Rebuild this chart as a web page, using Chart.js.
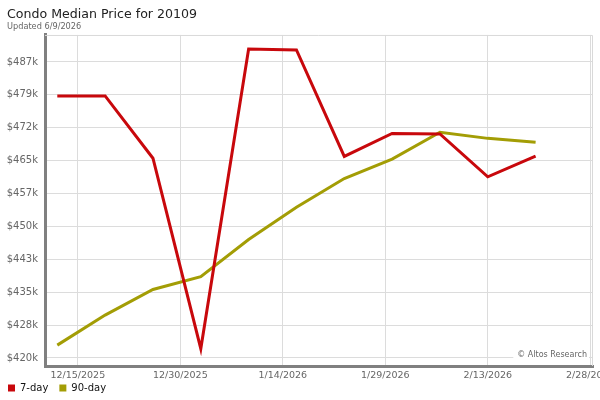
<!DOCTYPE html>
<html>
<head>
<meta charset="utf-8">
<script src="https://cdn.jsdelivr.net/npm/chart.js@4.4.1/dist/chart.umd.min.js"></script>
<style>
    html, body { margin: 0; padding: 0; background: #fff; }
    #wrap { width: 600px; height: 400px; }
</style>
</head>
<body>
<div id="wrap"><canvas id="price-chart"></canvas></div>
<script>
// weekly dates (in USD)
const weekDates = ['2025-12-12', '2025-12-19', '2025-12-26', '2026-01-02', '2026-01-09', '2026-01-16',
    '2026-01-23', '2026-01-30', '2026-02-06', '2026-02-13', '2026-02-20'];
const sevenDay = [479300, 479300, 465200, 422100, 489900, 489700, 465600, 470800, 470700, 461000, 465700];
const ninetyDay = [422900, 429700, 435500, 438400, 446800, 454100, 460600, 465000, 471100, 469700, 468800];

const xTickDates = ['12/15/2025', '12/30/2025', '1/14/2026', '1/29/2026', '2/13/2026', '2/28/2026'];
const yTickLabels = ['$420k', '$428k', '$435k', '$443k', '$450k', '$457k', '$465k', '$472k', '$479k', '$487k'];

const Y_LOW = 420000;
const Y_HIGH = 487000;
const yStep = (Y_HIGH - Y_LOW) / (yTickLabels.length - 1);

const DAY = 86400000;
const origin = Date.UTC(2025, 11, 15);

function dayOffset(str) {
    const p = str.split(/[-\/]/).map(Number);
    // ISO y-m-d or US m/d/y
    const t = str.includes('-') ? Date.UTC(p[0], p[1] - 1, p[2]) : Date.UTC(p[2], p[0] - 1, p[1]);
    return Math.round((t - origin) / DAY);
}

const xTickDays = xTickDates.map(dayOffset);
const toPoints = vals => vals.map((v, i) => ({ x: dayOffset(weekDates[i]), y: v }));

const frame = {
    id: 'frame',
    afterLayout(chart) {
        // pull the legend up under the dates and flush left
        const lg = chart.legend;
        if (lg) {
            lg.left -= 10;
            lg.right -= 10;
            lg.top -= 10;
            lg.bottom -= 10;
        }
    },
    beforeDatasetsDraw(chart) {
        const { ctx, chartArea: a } = chart;
        ctx.save();
        ctx.strokeStyle = '#d9d9d9';
        ctx.lineWidth = 1;
        ctx.beginPath();
        ctx.moveTo(a.left, a.top + 0.5);
        ctx.lineTo(a.right - 0.5, a.top + 0.5);
        ctx.lineTo(a.right - 0.5, a.bottom);
        ctx.stroke();
        ctx.restore();
    },
    afterDatasetsDraw(chart) {
        const { ctx, chartArea: a } = chart;
        const text = '\u00A9 Altos Research';
        ctx.save();
        ctx.font = '8px "DejaVu Sans"';
        const w = ctx.measureText(text).width;
        ctx.fillStyle = '#fff';
        ctx.fillRect(a.right - w - 10, a.bottom - 17, w + 6, 12);
        ctx.fillStyle = '#666';
        ctx.textBaseline = 'middle';
        ctx.fillText(text, a.right - w - 6, a.bottom - 11);
        ctx.restore();
    }
};

new Chart(document.getElementById('price-chart'), {
    type: 'line',
    data: {
        datasets: [{
            label: '7-day',
            data: toPoints(sevenDay),
            borderColor: '#c8080c',
            backgroundColor: '#c8080c',
            borderWidth: 3,
            pointRadius: 0,
            tension: 0
        }, {
            label: '90-day',
            data: toPoints(ninetyDay),
            borderColor: '#a39d05',
            backgroundColor: '#a39d05',
            borderWidth: 3,
            pointRadius: 0,
            tension: 0
        }]
    },
    options: {
        responsive: true,
        maintainAspectRatio: false,
        animation: false,
        layout: { padding: { left: 7, right: 7, top: 0, bottom: -13 } },
        plugins: {
            title: {
                display: true,
                text: 'Condo Median Price for 20109',
                align: 'start',
                color: '#222',
                font: { family: 'DejaVu Sans', size: 12.6, weight: 'normal' },
                padding: { top: 7, bottom: 0 }
            },
            subtitle: {
                display: true,
                text: 'Updated 6/9/2026',
                align: 'start',
                color: '#666',
                font: { family: 'DejaVu Sans', size: 8.2 },
                padding: { top: 0, bottom: 3 }
            },
            legend: {
                position: 'bottom',
                align: 'start',
                labels: {
                    boxWidth: 7,
                    boxHeight: 7,
                    padding: 11,
                    color: '#111',
                    font: { family: 'DejaVu Sans', size: 10 },
                    generateLabels: chart => Chart.defaults.plugins.legend.labels.generateLabels(chart)
                        .map(item => Object.assign(item, { lineWidth: 0 }))
                }
            },
            tooltip: { enabled: false }
        },
        scales: {
            x: {
                type: 'linear',
                min: -4.8,
                max: 75.4,
                afterBuildTicks: scale => { scale.ticks = xTickDays.map(v => ({ value: v })); },
                afterFit: scale => {
                    scale.height = 16;
                    scale.paddingLeft = 0;
                    scale.paddingRight = 0;
                },
                ticks: {
                    autoSkip: false,
                    maxRotation: 0,
                    padding: 4,
                    color: '#666',
                    font: { family: 'DejaVu Sans', size: 9.5 },
                    callback: (v) => xTickDates[xTickDays.indexOf(v)]
                },
                grid: { color: '#dcdcdc', drawTicks: false },
                border: { color: '#808080', width: 3 }
            },
            y: {
                min: Y_LOW - yStep * 0.245,
                max: Y_LOW + yStep * 9.82,
                afterBuildTicks: scale => { scale.ticks = yTickLabels.map((_, i) => ({ value: Y_LOW + i * yStep })); },
                afterFit: scale => { scale.width = 38; },
                ticks: {
                    padding: 7,
                    color: '#666',
                    font: { family: 'DejaVu Sans', size: 10 },
                    callback: (v, i) => yTickLabels[i]
                },
                grid: { color: '#dcdcdc', drawTicks: false },
                border: { color: '#808080', width: 3 }
            }
        }
    },
    plugins: [frame]
});
</script>
</body>
</html>
